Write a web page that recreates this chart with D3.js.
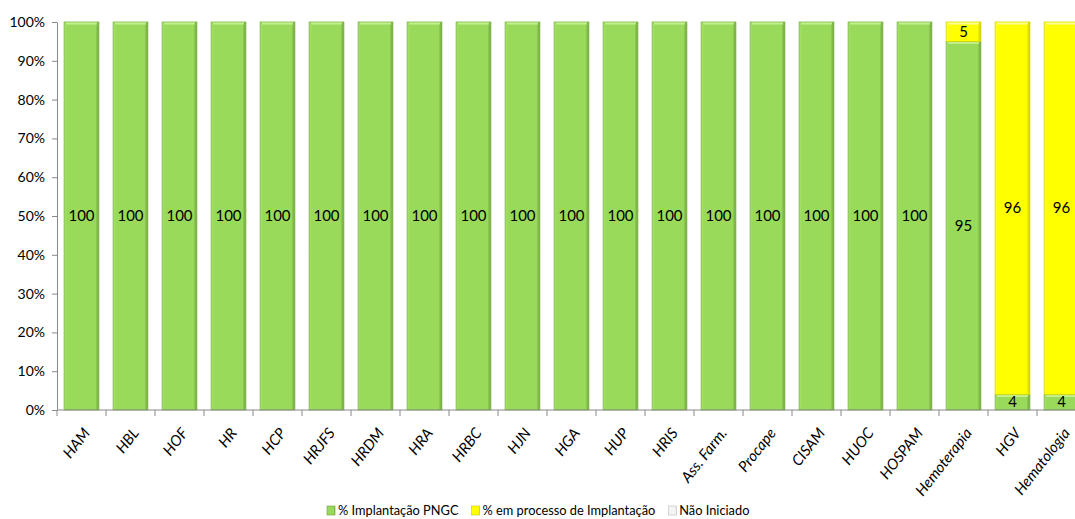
<!DOCTYPE html>
<html>
<head>
<meta charset="utf-8">
<script src="https://cdn.jsdelivr.net/npm/d3@7"></script>
<style>
  body { margin: 0; background: #fff; }
  svg text { font-family: Lato, "Open Sans", sans-serif; }
</style>
</head>
<body>
<div id="chart"></div>
<script>
// Chart data
const categories = ["HAM", "HBL", "HOF", "HR", "HCP", "HRJFS", "HRDM", "HRA", "HRBC", "HJN", "HGA",
  "HUP", "HRIS", "Ass. Farm.", "Procape", "CISAM", "HUOC", "HOSPAM", "Hemoterapia", "HGV", "Hematologia"];
const implantacao = [100, 100, 100, 100, 100, 100, 100, 100, 100, 100, 100, 100, 100, 100, 100, 100, 100, 100, 95, 4, 4];
const emProcesso = [0, 0, 0, 0, 0, 0, 0, 0, 0, 0, 0, 0, 0, 0, 0, 0, 0, 0, 5, 96, 96];
const naoIniciado = [0, 0, 0, 0, 0, 0, 0, 0, 0, 0, 0, 0, 0, 0, 0, 0, 0, 0, 0, 0, 0];
const seriesNames = ["% Implantação PNGC", "% em processo de Implantação", "Não Iniciado"];
const yTicks = [0, 10, 20, 30, 40, 50, 60, 70, 80, 90, 100];

const width = 1075, height = 519;
const margin = {top: 22, right: -11, bottom: 109, left: 57};

const svg = d3.select("#chart").append("svg")
    .attr("width", width)
    .attr("height", height);

// Gradients for the bevelled bars
const defs = svg.append("defs");
function addGradient(id, light, mid, dark) {
    const g = defs.append("linearGradient").attr("id", id)
        .attr("x1", "0%").attr("x2", "100%").attr("y1", "0%").attr("y2", "0%");
    g.append("stop").attr("offset", "0%").attr("stop-color", light);
    g.append("stop").attr("offset", "8%").attr("stop-color", mid);
    g.append("stop").attr("offset", "90%").attr("stop-color", mid);
    g.append("stop").attr("offset", "100%").attr("stop-color", dark);
}
addGradient("gGreen", "#a6e36b", "#99da5a", "#6f9f3c");
addGradient("gYellow", "#ffff40", "#ffff00", "#c8c800");
addGradient("gWhite", "#ffffff", "#f4f4f4", "#c8c8c8");
const fills = ["url(#gGreen)", "url(#gYellow)", "url(#gWhite)"];
const strokes = ["#7fb64a", "#d6d600", "#cccccc"];

const data = categories.map((c, i) => ({
    category: c, s0: implantacao[i], s1: emProcesso[i], s2: naoIniciado[i]
}));

const stack = d3.stack().keys(["s0", "s1", "s2"]);
const stacked = stack(data);

const x = d3.scaleBand()
    .domain(categories)
    .range([margin.left, width - margin.right])
    .paddingInner(0.29)
    .paddingOuter(0.145);

const y = d3.scaleLinear()
    .domain([0, 100])
    .range([height - margin.bottom, margin.top]);

const plot = svg.append("g");

// Bars
stacked.forEach((layer, si) => {
    const g = plot.append("g");
    const segs = layer.filter(d => d[1] - d[0] > 0);
    g.selectAll("rect")
        .data(segs)
        .enter()
        .append("rect")
        .attr("x", d => x(d.data.category))
        .attr("y", d => y(d[1]))
        .attr("width", x.bandwidth())
        .attr("height", d => y(d[0]) - y(d[1]))
        .attr("fill", fills[si])
        .attr("stroke", strokes[si])
        .attr("stroke-width", 0.8);
    // top highlight
    g.selectAll("line")
        .data(segs)
        .enter()
        .append("line")
        .attr("x1", d => x(d.data.category) + 2)
        .attr("x2", d => x(d.data.category) + x.bandwidth() - 2)
        .attr("y1", d => y(d[1]) + 1.5)
        .attr("y2", d => y(d[1]) + 1.5)
        .attr("stroke", si === 0 ? "#c2f08f" : "#ffff90")
        .attr("stroke-width", 2);
    // labels
    g.selectAll("text")
        .data(segs)
        .enter()
        .append("text")
        .attr("x", d => x(d.data.category) + x.bandwidth() / 2)
        .attr("y", d => (y(d[0]) + y(d[1])) / 2)
        .attr("dy", "0.35em")
        .attr("text-anchor", "middle")
        .style("font-size", "15px")
        .style("fill", "#000")
        .text(d => d[1] - d[0]);
});

// Y axis
const yAxis = svg.append("g")
    .attr("transform", `translate(${margin.left},0)`)
    .call(d3.axisLeft(y).tickValues(yTicks).tickFormat(d => d + "%").tickSize(5).tickSizeOuter(0));
yAxis.select(".domain").attr("stroke", "#888");
yAxis.selectAll(".tick line").attr("stroke", "#888");
yAxis.selectAll(".tick text").style("font-size", "14px").attr("fill", "#000").attr("x", -12);

// X axis
const xAxis = svg.append("g")
    .attr("transform", `translate(0,${y(0)})`);
xAxis.append("line")
    .attr("x1", margin.left).attr("x2", width)
    .attr("y1", 0).attr("y2", 0)
    .attr("stroke", "#888");
const step = x.step();
xAxis.selectAll(".sep")
    .data(categories)
    .enter()
    .append("line")
    .attr("x1", d => x(d) - x.paddingInner() * step / 2)
    .attr("x2", d => x(d) - x.paddingInner() * step / 2)
    .attr("y1", 0).attr("y2", 6)
    .attr("stroke", "#888");
xAxis.selectAll(".lbl")
    .data(categories)
    .enter()
    .append("text")
    .attr("transform", d => `translate(${x(d) + x.bandwidth() / 2 + 5},${20}) rotate(-52)`)
    .attr("text-anchor", "end")
    .attr("dy", "0.35em")
    .style("font-size", "15px")
    .style("font-style", "italic")
    .text(d => d);

// Legend
const legendItems = [
    {name: seriesNames[0], fill: fills[0], stroke: "#6f9f3c"},
    {name: seriesNames[1], fill: fills[1], stroke: "#c8c800"},
    {name: seriesNames[2], fill: fills[2], stroke: "#bbbbbb"}
];
const legend = svg.append("g").attr("transform", `translate(327,511)`);
let lx = 0;
legendItems.forEach(item => {
    const g = legend.append("g").attr("transform", `translate(${lx},0)`);
    g.append("rect")
        .attr("x", 0).attr("y", -5).attr("width", 8).attr("height", 9)
        .attr("fill", item.fill).attr("stroke", item.stroke).attr("stroke-width", 0.6);
    const t = g.append("text")
        .attr("x", 11).attr("y", 0).attr("dy", "0.35em")
        .style("font-size", "12.8px")
        .text(item.name);
    lx += 11 + t.node().getComputedTextLength() + 13;
});
</script>
</body>
</html>
